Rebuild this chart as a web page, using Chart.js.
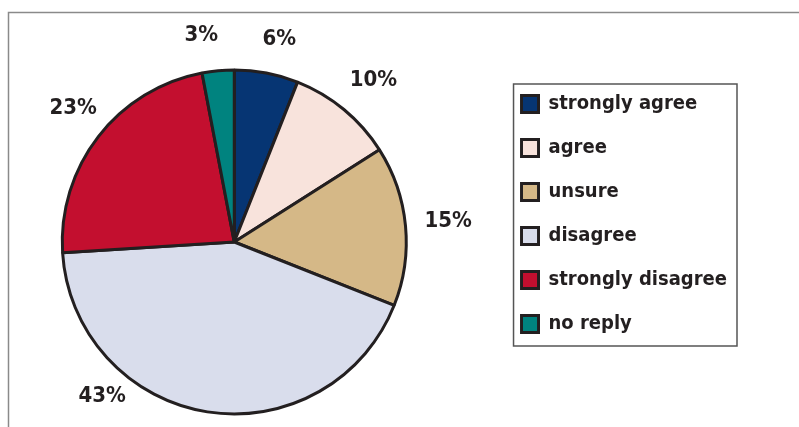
<!DOCTYPE html>
<html lang="en">
<head>
<meta charset="UTF-8">
<title>Survey responses</title>
<script src="https://cdn.jsdelivr.net/npm/chart.js"></script>
<style>
  body { margin: 0; background: #fff; }
</style>
</head>
<body>
<canvas id="pieChart" width="799" height="427"></canvas>
<script>
const categories = ['strongly agree', 'agree', 'unsure', 'disagree', 'strongly disagree', 'no reply'];
const shares = [6, 10, 15, 43, 23, 3];
const sliceColours = ['#063573', '#f8e3dc', '#d5b887', '#d9ddec', '#c30f2f', '#00837f'];

// percentage labels: distance past the rim and turn (degrees) off the slice middle
const labelGap = [36, 41, 43, 31, 37, 37];
const labelTurn = [1.7, 1.2, -0.2, 31.6, 1.8, -3.7];

const fontFamily = "'DejaVu Sans Condensed', 'DejaVu Sans', sans-serif";
const inkColour = '#231f20';

// thin grey frame along the top and left edge
const framePlugin = {
    id: 'frame',
    beforeDraw(chart) {
        const ctx = chart.ctx;
        ctx.save();
        ctx.strokeStyle = '#8a8a8a';
        ctx.lineWidth = 1.5;
        ctx.beginPath();
        ctx.moveTo(8.5, chart.height);
        ctx.lineTo(8.5, 12.5);
        ctx.lineTo(chart.width, 12.5);
        ctx.stroke();
        ctx.restore();
    }
};

// push the legend a little further right than the layout puts it
const legendNudge = {
    id: 'legendNudge',
    afterLayout(chart) {
        chart.legend.left += 29;
        chart.legend.right += 29;
    }
};

// box round the legend items
const legendBoxPlugin = {
    id: 'legendBox',
    afterDraw(chart) {
        const boxes = chart.legend.legendHitBoxes;
        if (!boxes || !boxes.length) return;
        const left = Math.min(...boxes.map(b => b.left)) - 8;
        const top = Math.min(...boxes.map(b => b.top)) - 10;
        const right = Math.max(...boxes.map(b => b.left + b.width)) + 10;
        const bottom = Math.max(...boxes.map(b => b.top + b.height)) + 12;
        const ctx = chart.ctx;
        ctx.save();
        ctx.strokeStyle = '#555';
        ctx.lineWidth = 1.5;
        ctx.strokeRect(left, top, right - left, bottom - top);
        ctx.restore();
    }
};

// percentage text outside each slice
const percentLabels = {
    id: 'percentLabels',
    afterDatasetsDraw(chart) {
        const ctx = chart.ctx;
        const meta = chart.getDatasetMeta(0);
        ctx.save();
        ctx.fillStyle = inkColour;
        ctx.font = 'bold 22px ' + fontFamily;
        ctx.textAlign = 'center';
        ctx.textBaseline = 'middle';
        meta.data.forEach((arc, i) => {
            const p = arc.getProps(['x', 'y', 'startAngle', 'endAngle', 'outerRadius'], true);
            const a = (p.startAngle + p.endAngle) / 2 + labelTurn[i] * Math.PI / 180;
            const d = p.outerRadius + labelGap[i];
            ctx.fillText(shares[i] + '%', p.x + Math.cos(a) * d, p.y + Math.sin(a) * d);
        });
        ctx.restore();
    }
};

new Chart(document.getElementById('pieChart'), {
    type: 'pie',
    data: {
        labels: categories,
        datasets: [{
            data: shares,
            backgroundColor: sliceColours,
            borderColor: inkColour,
            borderWidth: 3,
            radius: 172
        }]
    },
    options: {
        responsive: false,
        animation: false,
        layout: {
            padding: { left: 0, top: 70, bottom: 13, right: 91 }
        },
        plugins: {
            legend: {
                position: 'right',
                align: 'start',
                labels: {
                    boxWidth: 17,
                    boxHeight: 17,
                    padding: 24,
                    color: inkColour,
                    font: { size: 20, weight: 'bold', family: fontFamily }
                }
            },
            tooltip: { enabled: false }
        }
    },
    plugins: [framePlugin, legendNudge, legendBoxPlugin, percentLabels]
});
</script>
</body>
</html>
